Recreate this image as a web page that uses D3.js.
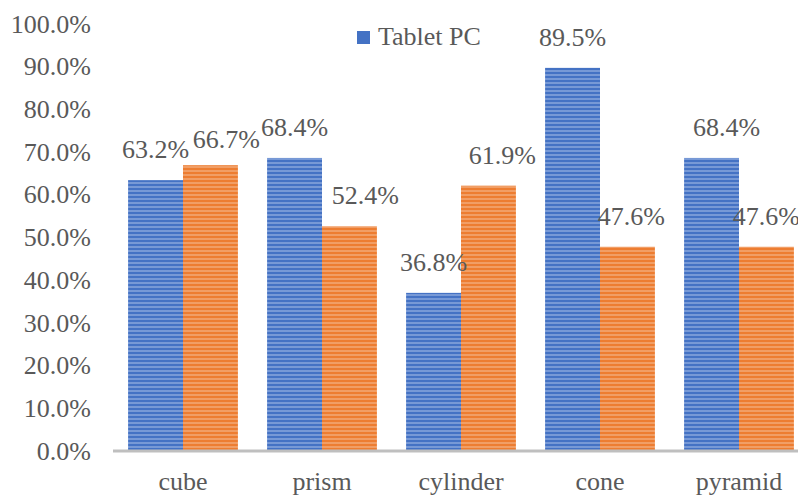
<!DOCTYPE html>
<html>
<head>
<meta charset="utf-8">
<script src="https://cdn.jsdelivr.net/npm/d3@7"></script>
<style>
  html, body { margin: 0; padding: 0; background: #fff; }
  svg { display: block; }
</style>
</head>
<body>
<svg id="chart" width="798" height="495"></svg>
<script>
// Share of correct answers per solid, by device
const categories = ["cube", "prism", "cylinder", "cone", "pyramid"];
const seriesNames = ["Tablet PC", "Paper"];
const tabletValues = [0.632, 0.684, 0.368, 0.895, 0.684];
const paperValues  = [0.667, 0.524, 0.619, 0.476, 0.476];
const yTicks = [0, 0.1, 0.2, 0.3, 0.4, 0.5, 0.6, 0.7, 0.8, 0.9, 1.0];

// Nudges [dx, dy] per value label that keep neighbouring labels apart
const labelShift = [
  [[0, 0], [16, 5]],
  [[0, 0], [16, 0]],
  [[0, 0], [14, 0]],
  [[0, 0], [4, 0]],
  [[15, 0], [0, 0]]
];

const svg = d3.select("#chart");
const W = 798;
const fontFamily = "Liberation Serif";
const fontSize = 26;
const textColor = "#595959";
const colors = ["#4472C4", "#ED7D31"];
const stripeColors = ["#a9bfe8", "#f6bf98"];

// Striped fills for the bars
const defs = svg.append("defs");
colors.forEach((c, i) => {
  const p = defs.append("pattern")
    .attr("id", "stripe" + i)
    .attr("patternUnits", "userSpaceOnUse")
    .attr("width", 8).attr("height", 4);
  p.append("rect").attr("width", 8).attr("height", 4).attr("fill", c);
  p.append("rect").attr("y", 2.5).attr("width", 8).attr("height", 1).attr("fill", stripeColors[i]);
});

const x0 = d3.scaleBand()
  .domain(categories)
  .range([113.5, 808.5])
  .paddingInner(0.21)
  .paddingOuter(0.105);

const x1 = d3.scaleBand()
  .domain(d3.range(seriesNames.length))
  .range([0, x0.bandwidth()]);

const y = d3.scaleLinear().domain([0, 1]).range([450, 23]);

function styleText(sel) {
  sel.attr("font-family", fontFamily)
    .attr("font-size", fontSize)
    .attr("fill", textColor);
}

// Y axis labels
const yAxis = d3.axisLeft(y)
  .tickValues(yTicks)
  .tickFormat(d3.format(".1%"))
  .tickSize(0)
  .tickPadding(0);
const gy = svg.append("g").attr("transform", "translate(91,0)").call(yAxis);
gy.attr("font-family", fontFamily).attr("font-size", fontSize);
gy.select(".domain").remove();
gy.selectAll("text").call(styleText).attr("dy", "0.35em");

// Bars
const rows = categories.map((c, i) => ({ cat: c, vals: [tabletValues[i], paperValues[i]], idx: i }));
const groups = svg.append("g").selectAll("g")
  .data(rows).join("g")
  .attr("transform", d => `translate(${x0(d.cat)},0)`);

groups.selectAll("rect")
  .data(d => d.vals.map((v, s) => ({ v, s })))
  .join("rect")
  .attr("x", d => x1(d.s))
  .attr("y", d => y(d.v))
  .attr("width", x1.bandwidth())
  .attr("height", d => y(0) - y(d.v))
  .attr("fill", d => `url(#stripe${d.s})`);

// Value labels
groups.selectAll("text.val")
  .data(d => d.vals.map((v, s) => ({ v, s, shift: labelShift[d.idx][s] })))
  .join("text")
  .attr("class", "val")
  .attr("x", d => x1(d.s) + x1.bandwidth() / 2 + d.shift[0])
  .attr("y", d => y(d.v) - 22 + d.shift[1])
  .attr("text-anchor", "middle")
  .call(styleText)
  .text(d => d3.format(".1%")(d.v));

// Category axis
const xAxis = d3.axisBottom(x0).tickSize(0).tickPadding(0);
const gx = svg.append("g").attr("transform", "translate(0,450)").call(xAxis);
gx.attr("font-family", fontFamily).attr("font-size", fontSize);
gx.select(".domain").remove();
gx.selectAll("text").call(styleText).attr("dy", 0).attr("y", 40);

svg.append("line")
  .attr("x1", 113).attr("x2", W)
  .attr("y1", y(0) + 1).attr("y2", y(0) + 1)
  .attr("stroke", "#bfbfbf")
  .attr("stroke-width", 3);

// Legend
const lg = svg.append("g").attr("transform", "translate(357,31)");
lg.append("rect").attr("width", 13).attr("height", 13).attr("fill", colors[0]);
lg.append("text")
  .attr("x", 21).attr("y", 14)
  .call(styleText)
  .text(seriesNames[0]);
</script>
</body>
</html>
